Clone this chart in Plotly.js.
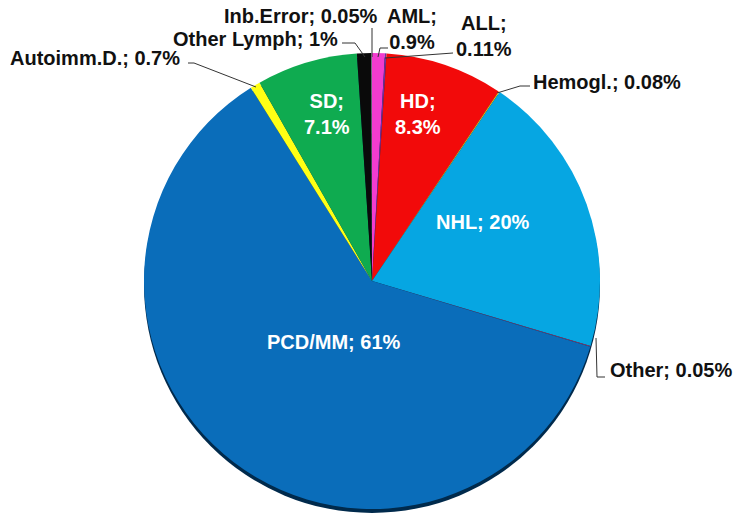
<!DOCTYPE html>
<html>
<head>
<meta charset="utf-8">
<script src="https://cdn.plot.ly/plotly-3.0.1.min.js"></script>
<style>html,body{margin:0;padding:0;background:#fff;}#chart{width:734px;height:513px;}</style>
</head>
<body>
<div id="chart"></div>
<script>
// ---- data ----
var labels = ["AML", "ALL", "HD", "Hemogl.", "NHL", "Other", "PCD/MM", "Autoimm.D.", "SD", "Other Lymph", "Inb.Error"];
var percents = [0.9, 0.11, 8.3, 0.08, 20, 0.05, 61, 0.7, 7.1, 1, 0.05];
var percentText = ["0.9%", "0.11%", "8.3%", "0.08%", "20%", "0.05%", "61%", "0.7%", "7.1%", "1%", "0.05%"];
var colors = ["#f23ccf", "#7030a0", "#f20a0a", "#ffc000", "#06a6e2", "#a03060", "#0a6dba", "#ffff14", "#0fab50", "#0a0a0a", "#9a9a9a"];

// ---- layout helpers (pixel -> paper) ----
var W = 734, H = 513;
function px(x) { return x / W; }
function py(y) { return 1 - y / H; }
var cx = 372, cy = 281, r = 228;

// label placement: [x, y, xanchor, lineBreak, inside]
var place = {
  "AML": [412, 29, "center", true, false],
  "ALL": [484, 36, "center", true, false],
  "HD": [418, 114, "center", true, true],
  "Hemogl.": [531, 82, "left", false, false],
  "NHL": [483, 222, "center", false, true],
  "Other": [608, 370, "left", false, false],
  "PCD/MM": [334, 342, "center", false, true],
  "Autoimm.D.": [8, 58, "left", false, false],
  "SD": [327, 114, "center", true, true],
  "Other Lymph": [171, 39, "left", false, false],
  "Inb.Error": [380, 16, "right", false, false]
};

var annotations = labels.map(function (lab, i) {
  var p = place[lab];
  return {
    xref: "paper", yref: "paper",
    x: px(p[0]), y: py(p[1]),
    xanchor: p[2], yanchor: "middle",
    showarrow: false,
    text: lab + ";" + (p[3] ? "<br>" : " ") + percentText[i],
    font: {family: "Liberation Sans, Arial, sans-serif", size: 20, weight: "bold", color: p[4] ? "#ffffff" : "#111111"},
    align: "center"
  };
});

// leader lines (pixel polylines)
var leaders = [
  [[372, 28], [372, 57]],
  [[342, 43], [355, 43], [365, 57]],
  [[378, 57], [380, 48], [388, 48]],
  [[385, 58], [453, 53]],
  [[497, 93], [520, 86], [530, 86]],
  [[596, 338], [597, 377], [605, 377]],
  [[188, 63], [194, 63], [256, 87]]
];
var shapes = [{
  type: "circle", xref: "paper", yref: "paper", layer: "below",
  x0: px(cx - r), x1: px(cx + r),
  y0: py(cy + r + 4), y1: py(cy - r + 4),
  fillcolor: "#002a4c", line: {width: 0}
}];
leaders.forEach(function (pts) {
  var d = pts.map(function (p, k) { return (k ? "L" : "M") + px(p[0]) + "," + py(p[1]); }).join(" ");
  shapes.push({type: "path", xref: "paper", yref: "paper", path: d, line: {color: "#333333", width: 1}});
});

var trace = {
  type: "pie",
  labels: labels,
  values: percents,
  sort: false,
  direction: "clockwise",
  rotation: 0,
  textinfo: "none",
  hoverinfo: "label+text",
  text: percentText,
  marker: {colors: colors, line: {width: 0}},
  domain: {x: [px(cx - r), px(cx + r)], y: [py(cy + r), py(cy - r)]},
  showlegend: false
};

var layout = {
  width: W, height: H,
  margin: {l: 0, r: 0, t: 0, b: 0},
  paper_bgcolor: "#ffffff",
  showlegend: false,
  annotations: annotations,
  shapes: shapes
};

Plotly.newPlot("chart", [trace], layout, {displayModeBar: false, staticPlot: true});
</script>
</body>
</html>
